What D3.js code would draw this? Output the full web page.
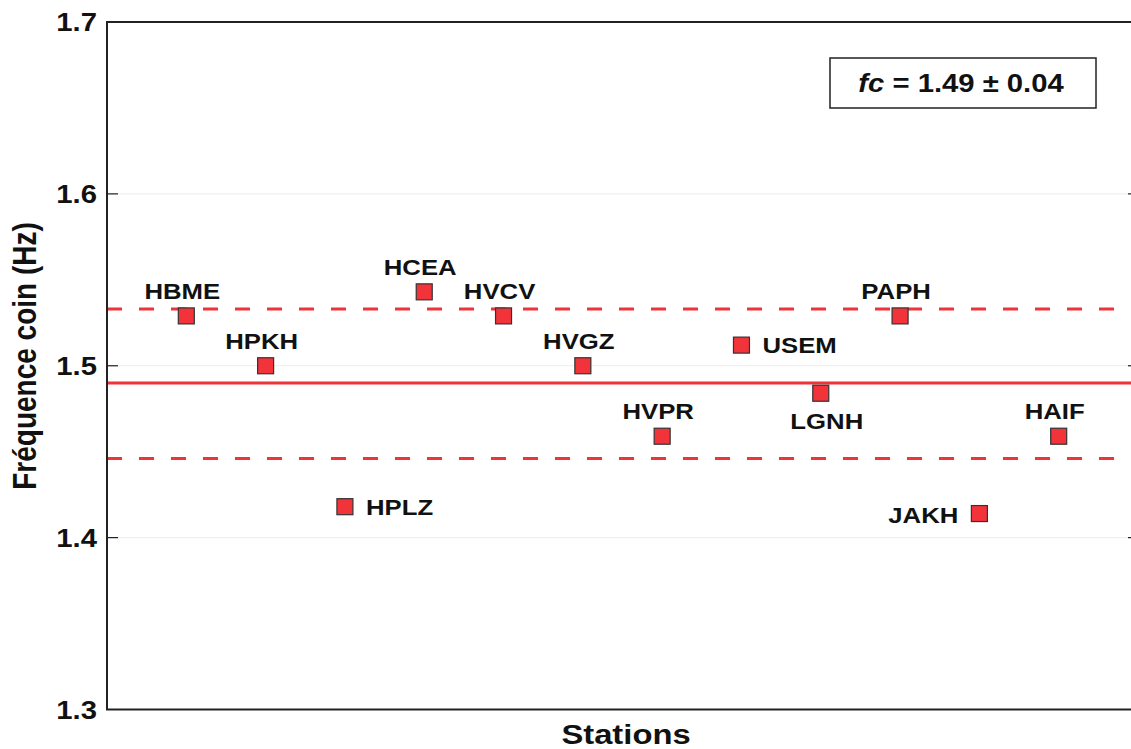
<!DOCTYPE html>
<html>
<head>
<meta charset="utf-8">
<script src="https://cdn.jsdelivr.net/npm/d3@7"></script>
<style>
  body { margin: 0; background: #fff; }
  svg text { font-family: "Liberation Sans", Arial, sans-serif; font-weight: bold; fill: #111; }
</style>
</head>
<body>
<svg id="chart" width="1131" height="749"></svg>
<script>
// stations in plotting order
const stations = ["HBME", "HPKH", "HPLZ", "HCEA", "HVCV", "HVGZ", "HVPR", "USEM", "LGNH", "PAPH", "JAKH", "HAIF"];
// corner frequency (Hz)
const fcValues = [1.529, 1.500, 1.418, 1.543, 1.529, 1.500, 1.459, 1.512, 1.484, 1.529, 1.414, 1.459];
const fcMean = 1.49;
const fcUpper = 1.533;
const fcLower = 1.446;
const yTicks = [1.3, 1.4, 1.5, 1.6, 1.7];
const yGrid = [1.4, 1.5, 1.6];

const svg = d3.select("#chart");
const stretch = 1.17; // text in the reference is a bit wide
const red = "#ee3339";

const plotLeft = 107, plotRight = 1138, plotTop = 22, plotBottom = 709.5;

const x = d3.scaleLinear().domain([0, stations.length + 1]).range([plotLeft, plotRight]);
const y = d3.scaleLinear().domain([1.3, 1.7]).range([plotBottom, plotTop]);

// grid
svg.append("g").selectAll("line").data(yGrid).enter().append("line")
  .attr("x1", plotLeft).attr("x2", plotRight)
  .attr("y1", d => y(d)).attr("y2", d => y(d))
  .attr("stroke", "#ececec").attr("stroke-width", 1);

// inward ticks left and right
const ticks = svg.append("g").attr("stroke", "#222").attr("stroke-width", 1.2);
yGrid.forEach(v => {
  ticks.append("line").attr("x1", plotLeft).attr("x2", plotLeft + 11).attr("y1", y(v)).attr("y2", y(v));
  ticks.append("line").attr("x1", plotRight - 10).attr("x2", plotRight).attr("y1", y(v)).attr("y2", y(v));
});

// mean and +/- lines
svg.append("line")
  .attr("x1", plotLeft).attr("x2", plotRight)
  .attr("y1", y(fcMean)).attr("y2", y(fcMean))
  .attr("stroke", red).attr("stroke-width", 3);

svg.append("g").selectAll("line").data([fcUpper, fcLower]).enter().append("line")
  .attr("x1", plotLeft).attr("x2", plotRight)
  .attr("y1", d => y(d)).attr("y2", d => y(d))
  .attr("stroke", red).attr("stroke-width", 3)
  .attr("stroke-dasharray", "15,17");

// frame
svg.append("path")
  .attr("d", `M${plotRight},${plotTop}H${plotLeft}V${plotBottom}H${plotRight}`)
  .attr("fill", "none").attr("stroke", "#222").attr("stroke-width", 2);

function stext(g, tx, ty, str, size, anchor) {
  return g.append("text")
    .attr("transform", `translate(${tx},${ty}) scale(${stretch},1)`)
    .attr("text-anchor", anchor || "middle")
    .style("font-size", size + "px")
    .text(str);
}

// y tick labels
const yl = svg.append("g");
yTicks.forEach(v => stext(yl, 97, y(v) + 9, v.toFixed(1), 25, "end"));

// axis titles
svg.append("text")
  .attr("transform", `translate(36,356) scale(${stretch},1) rotate(-90)`)
  .attr("text-anchor", "middle")
  .style("font-size", "28px")
  .text("Fréquence coin (Hz)");
stext(svg, 626, 744, "Stations", 28);

// where each label sits relative to its marker
const labelPlace = { HPLZ: "right", USEM: "right", JAKH: "left", LGNH: "below" };

const pts = svg.append("g");
stations.forEach((name, i) => {
  const px = x(i + 1), py = y(fcValues[i]);
  pts.append("rect")
    .attr("x", px - 8).attr("y", py - 8)
    .attr("width", 16).attr("height", 16)
    .attr("fill", "#f2333a").attr("stroke", "#333").attr("stroke-width", 1.2);
  const place = labelPlace[name] || "above";
  if (place === "right") stext(pts, px + 21, py + 8, name, 22, "start");
  else if (place === "left") stext(pts, px - 21, py + 9, name, 22, "end");
  else if (place === "below") stext(pts, px + 6, py + 36, name, 22);
  else stext(pts, px - 4, py - 17, name, 22);
});

// fc annotation box
svg.append("rect")
  .attr("x", 830).attr("y", 58).attr("width", 266).attr("height", 50)
  .attr("fill", "#fff").attr("stroke", "#222").attr("stroke-width", 1.5);
const fcText = svg.append("text")
  .attr("transform", `translate(961,92) scale(${stretch},1)`)
  .attr("text-anchor", "middle")
  .style("font-size", "25px");
fcText.append("tspan").style("font-style", "italic").text("fc");
fcText.append("tspan").text(" = " + fcMean.toFixed(2) + " ± 0.04");
</script>
</body>
</html>
